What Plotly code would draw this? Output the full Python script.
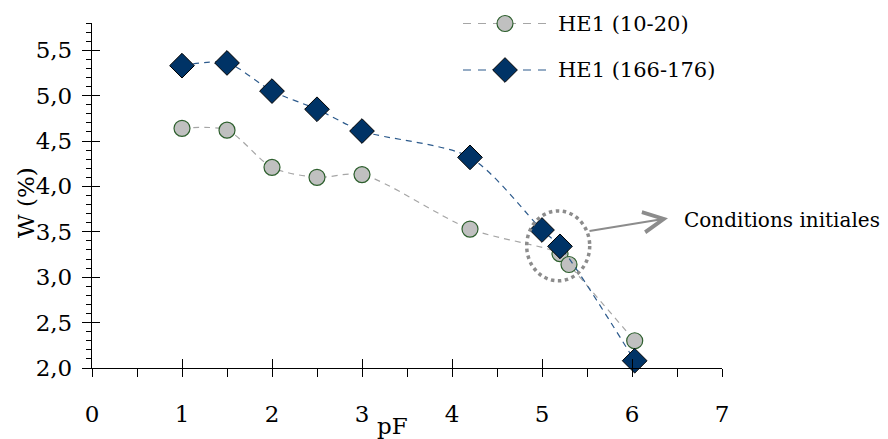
import plotly.graph_objects as go

# pF values and water content W (%) for the two HE1 samples
pf_a = [1.0, 1.5, 2.0, 2.5, 3.0, 4.2, 5.2, 5.3, 6.03]
w_a = [4.64, 4.62, 4.21, 4.10, 4.13, 3.53, 3.26, 3.14, 2.30]

pf_b = [1.0, 1.5, 2.0, 2.5, 3.0, 4.2, 5.0, 5.2, 6.03]
w_b = [5.33, 5.36, 5.05, 4.85, 4.61, 4.32, 3.52, 3.34, 2.08]

names = ["HE1 (10-20)", "HE1 (166-176)"]
x_ticks = [0, 1, 2, 3, 4, 5, 6, 7]
y_ticks = [2.0, 2.5, 3.0, 3.5, 4.0, 4.5, 5.0, 5.5]

FONT = "DejaVu Serif"
TICK_FS = 23
TEXT_FS = 21
NOTE_FS = 20
TITLE_FS = 23
GREY_LINE = "#a6a6a6"
BLUE_LINE = "#2c5a8c"
CIRCLE_FILL = "#c0c0c0"
CIRCLE_EDGE = "#2d5f2d"
DIAMOND_FILL = "#003366"
NOTE_GREY = "#8c8c8c"

W, H = 888, 439
ML, MR, MT, MB = 92, 166, 23, 71

fig = go.Figure()

fig.add_trace(go.Scatter(
    x=pf_a, y=w_a, name=names[0], mode="lines+markers",
    line=dict(color=GREY_LINE, width=1.2, dash="6px,5px", shape="spline", smoothing=0.8),
    marker=dict(symbol="circle", size=16, color=CIRCLE_FILL,
                line=dict(color=CIRCLE_EDGE, width=1.2)),
    cliponaxis=False, showlegend=False))

fig.add_trace(go.Scatter(
    x=pf_b, y=w_b, name=names[1], mode="lines+markers",
    line=dict(color=BLUE_LINE, width=1.2, dash="6px,5px", shape="spline", smoothing=0.8),
    marker=dict(symbol="diamond", size=19, color=DIAMOND_FILL,
                line=dict(color="black", width=1)),
    cliponaxis=False, showlegend=False))

# companion axes so that major ticks cross the axis lines
fig.add_trace(go.Scatter(x=[None], y=[None], xaxis="x2", yaxis="y2",
                         showlegend=False, hoverinfo="skip"))

# legend drawn on a pixel-scaled overlay axis pair
legend_y = [23.5, 70]
legend_line_x = [463, 548]
legend_mark_x = 505
legend_text_x = 556
legend_colors = [GREY_LINE, BLUE_LINE]
for ly, col in zip(legend_y, legend_colors):
    fig.add_trace(go.Scatter(x=legend_line_x, y=[ly] * 2, xaxis="x3", yaxis="y3",
                             mode="lines", line=dict(color=col, width=1.2, dash="8px,7px"),
                             cliponaxis=False, showlegend=False, hoverinfo="skip"))
fig.add_trace(go.Scatter(x=[legend_mark_x], y=[legend_y[0]], xaxis="x3", yaxis="y3",
                         mode="markers",
                         marker=dict(symbol="circle", size=16, color=CIRCLE_FILL,
                                     line=dict(color=CIRCLE_EDGE, width=1.2)),
                         cliponaxis=False, showlegend=False, hoverinfo="skip"))
fig.add_trace(go.Scatter(x=[legend_mark_x], y=[legend_y[1]], xaxis="x3", yaxis="y3",
                         mode="markers",
                         marker=dict(symbol="diamond", size=19, color=DIAMOND_FILL,
                                     line=dict(color="black", width=1)),
                         cliponaxis=False, showlegend=False, hoverinfo="skip"))
for name, ly in zip(names, legend_y):
    fig.add_annotation(x=legend_text_x, y=ly, xref="x3", yref="y3", text=name,
                       showarrow=False, xanchor="left", yanchor="middle",
                       font=dict(family=FONT, size=TEXT_FS, color="black"))

tick_font = dict(family=FONT, size=TICK_FS, color="black")
title_font = dict(family=FONT, size=TITLE_FS, color="black")

fig.update_layout(
    width=W, height=H,
    margin=dict(l=ML, r=MR, t=MT, b=MB, pad=0),
    paper_bgcolor="white", plot_bgcolor="white",
    separators=", ",
    font=dict(family=FONT, size=TICK_FS, color="black"),
    xaxis=dict(range=[0, 7], tickvals=x_ticks, ticks="outside", ticklen=8, tickwidth=1,
               tickcolor="black", showline=True, linecolor="black", linewidth=1.3,
               showgrid=False, zeroline=False, tickfont=tick_font, ticklabelstandoff=17,
               minor=dict(dtick=0.5, ticks="outside", ticklen=8, tickcolor="black",
                          showgrid=False)),
    yaxis=dict(range=[2.0, 5.8], tickvals=y_ticks, tickformat=".1f", ticks="outside",
               ticklen=9, tickwidth=1, tickcolor="black", showline=True,
               linecolor="black", linewidth=1.3, showgrid=False, zeroline=False,
               tickfont=tick_font, ticklabelstandoff=5,
               minor=dict(dtick=0.1, ticks="outside", ticklen=5, tickcolor="black",
                          showgrid=False)),
    xaxis2=dict(range=[0, 7], tickvals=x_ticks, ticks="inside", ticklen=9,
                tickcolor="black", showticklabels=False, showline=False,
                showgrid=False, zeroline=False, overlaying="x", anchor="y"),
    yaxis2=dict(range=[2.0, 5.8], tickvals=y_ticks, ticks="inside", ticklen=8,
                tickcolor="black", showticklabels=False, showline=False,
                showgrid=False, zeroline=False, overlaying="y", anchor="x"),
    xaxis3=dict(range=[ML, W - MR], visible=False, overlaying="x", anchor="y3"),
    yaxis3=dict(range=[H - MB, MT], visible=False, overlaying="y", anchor="x3"),
)

# axis titles
fig.add_annotation(text="pF", xref="paper", yref="paper", x=(392 - ML) / (W - ML - MR),
                   y=(H - MB - 426) / (H - MT - MB), showarrow=False,
                   xanchor="center", yanchor="middle", font=title_font)
fig.add_annotation(text="W (%)", xref="paper", yref="paper", x=(26 - ML) / (W - ML - MR),
                   y=(H - MB - 203) / (H - MT - MB), showarrow=False, textangle=-90,
                   xanchor="center", yanchor="middle", font=title_font)

# initial conditions highlight
fig.add_shape(type="circle", xref="x", yref="y", x0=4.83, x1=5.53, y0=2.96, y1=3.73,
              line=dict(color=NOTE_GREY, width=3.5, dash="dot"))
fig.add_annotation(x=6.4, y=3.65, xref="x", yref="y", text="", showarrow=True,
                   ax=-80, ay=13, arrowhead=5, arrowsize=2, arrowwidth=2,
                   arrowcolor=NOTE_GREY, standoff=0)
fig.add_annotation(x=6.55, y=3.63, xref="x", yref="y", text="Conditions initiales",
                   showarrow=False, xanchor="left", yanchor="middle",
                   font=dict(family=FONT, size=NOTE_FS, color="black"))

fig.write_html("out.html")
